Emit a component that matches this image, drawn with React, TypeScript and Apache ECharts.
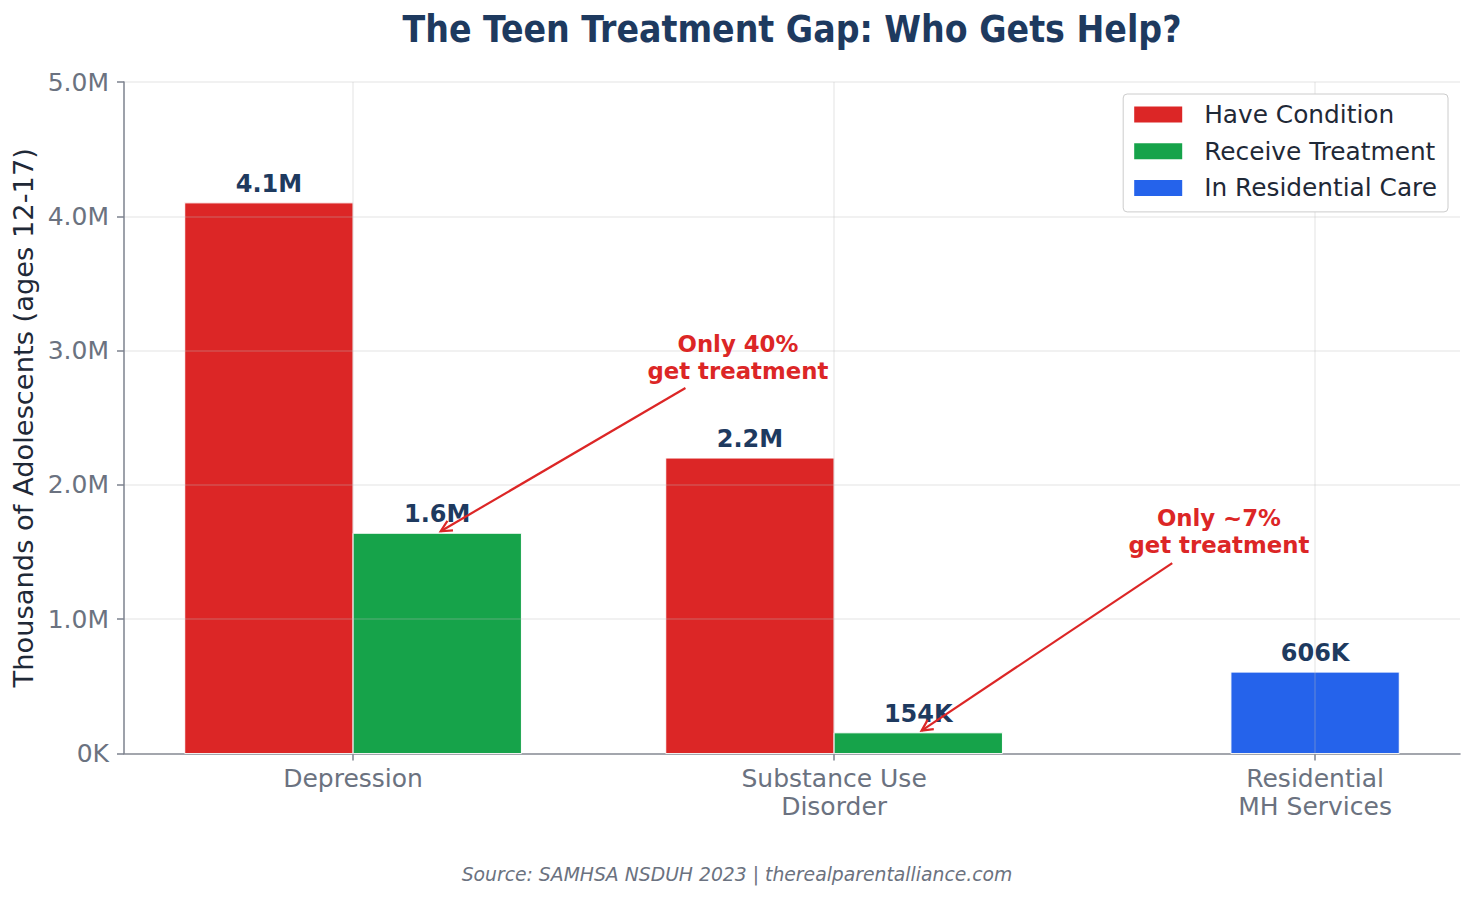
import React, { useEffect, useRef } from 'react';
import * as echarts from 'echarts';

// ---------- data ----------
const categories = ['Depression', 'Substance Use\nDisorder', 'Residential\nMH Services'];
const seriesNames = ['Have Condition', 'Receive Treatment', 'In Residential Care'];
const haveCondition: (number | null)[] = [4100, 2200, null];
const receiveTreatment: (number | null)[] = [1640, 154, null];
const residentialCare: (number | null)[] = [null, null, 606];
const yTicks = [0, 1000, 2000, 3000, 4000, 5000];

const annotationTexts = ['Only 40%\nget treatment', 'Only ~7%\nget treatment'];
const annotationTextAt = [[0.8, 2950], [1.8, 1650]];
const annotationArrowFrom = [[0.691, 2721], [1.703, 1418]];
const annotationArrowTo = [[0.175, 1640], [1.175, 154]];

const titleText = 'The Teen Treatment Gap: Who Gets Help?';
const sourceText = 'Source: SAMHSA NSDUH 2023 | therealparentalliance.com';
const yAxisName = 'Thousands of Adolescents (ages 12-17)';

// ---------- style ----------
const FONT = '"DejaVu Sans", sans-serif';
const RED = '#dc2626';
const GREEN = '#16a34a';
const BLUE = '#2563eb';
const NAVY = '#1e3a5f';
const GRAY = '#6b7280';
const AXIS = '#7d828e';
const GRID = 'rgba(190,190,190,0.28)';
const BAR_W = 0.35;

const fmtValue = (v: number) => (v >= 1000 ? (v / 1000).toFixed(1) + 'M' : Math.round(v) + 'K');
const fmtTick = (v: number) => (v === 0 ? '0K' : (v / 1000).toFixed(1) + 'M');

function barSeries(name: string, values: (number | null)[], color: string, offset: number) {
  const data = values
    .map((v, i) => (v == null ? null : [i, v]))
    .filter((d) => d != null);
  return {
    type: 'custom',
    name,
    itemStyle: { color },
    encode: { x: 0, y: 1 },
    data,
    z: 2,
    renderItem: (_params: any, api: any) => {
      const i = api.value(0);
      const v = api.value(1);
      const tl = api.coord([i + offset - BAR_W / 2, v]);
      const br = api.coord([i + offset + BAR_W / 2, 0]);
      return {
        type: 'group',
        children: [
          {
            type: 'rect',
            shape: { x: tl[0], y: tl[1], width: br[0] - tl[0], height: br[1] - tl[1] },
            style: { fill: color, stroke: '#ffffff', lineWidth: 1 },
          },
          {
            type: 'text',
            x: (tl[0] + br[0]) / 2,
            y: tl[1] - 19,
            style: {
              text: fmtValue(v),
              fill: NAVY,
              fontSize: 24,
              fontWeight: 'bold',
              fontFamily: FONT,
              align: 'center',
              verticalAlign: 'middle',
            },
          },
        ],
      };
    },
  };
}

export default function App() {
  const ref = useRef<HTMLDivElement>(null);

  useEffect(() => {
    if (!ref.current) return;
    const chart = echarts.init(ref.current, undefined, { renderer: 'svg' });

    const annotationData = annotationTexts.map((_, k) => [
      annotationTextAt[k][0],
      annotationTextAt[k][1],
      annotationArrowFrom[k][0],
      annotationArrowFrom[k][1],
      annotationArrowTo[k][0],
      annotationArrowTo[k][1],
    ]);

    const option: any = {
      animation: false,
      backgroundColor: '#ffffff',
      textStyle: { fontFamily: FONT },
      grid: { left: 124, right: 15, top: 82, bottom: 146.5, containLabel: false },
      legend: {
        data: seriesNames,
        orient: 'vertical',
        right: 27,
        top: 94,
        icon: 'rect',
        itemWidth: 48,
        itemHeight: 16,
        itemGap: 11.7,
        padding: [8, 11, 11.5, 11],
        backgroundColor: '#ffffff',
        borderColor: '#cccccc',
        borderWidth: 1,
        borderRadius: 4,
        z: 6,
        textStyle: { fontSize: 24.8, color: '#1f2937', fontFamily: FONT, padding: [0, 0, 0, 17] },
      },
      xAxis: {
        type: 'value',
        min: -0.47625,
        max: 2.30125,
        axisLine: { show: true, lineStyle: { color: AXIS, width: 1.5 } },
        axisTick: { show: true, length: 7, lineStyle: { color: AXIS, width: 1.5 }, customValues: [0, 1, 2] },
        axisLabel: {
          customValues: [0, 1, 2],
          formatter: (v: number) => categories[Math.round(v)] ?? '',
          fontSize: 25,
          color: GRAY,
          lineHeight: 28,
          margin: 11,
          fontFamily: FONT,
        },
        splitLine: { show: false },
      },
      yAxis: {
        type: 'value',
        min: yTicks[0],
        max: yTicks[yTicks.length - 1],
        interval: 1000,
        z: 3,
        name: yAxisName,
        nameLocation: 'middle',
        nameGap: 86,
        nameTextStyle: { fontSize: 27.3, color: '#1f2937', fontFamily: FONT },
        axisLine: { show: true, onZero: false, lineStyle: { color: AXIS, width: 1.5 } },
        axisTick: { show: true, length: 7, lineStyle: { color: AXIS, width: 1.5 } },
        axisLabel: { formatter: fmtTick, fontSize: 25, color: GRAY, margin: 15, fontFamily: FONT },
        splitLine: { show: true, lineStyle: { color: GRID, width: 1.5 } },
      },
      series: [
        barSeries(seriesNames[0], haveCondition, RED, -BAR_W / 2),
        barSeries(seriesNames[1], receiveTreatment, GREEN, BAR_W / 2),
        barSeries(seriesNames[2], residentialCare, BLUE, 0),
        {
          type: 'line',
          name: 'vgrid',
          data: [],
          silent: true,
          markLine: {
            silent: true,
            z: 3,
            symbol: ['none', 'none'],
            label: { show: false },
            lineStyle: { color: GRID, width: 1.5, type: 'solid' },
            data: categories.map((_, i) => ({ xAxis: i })),
          },
        },
        {
          type: 'custom',
          name: 'annotations',
          silent: true,
          z: 7,
          encode: { x: 0, y: 1 },
          data: annotationData,
          renderItem: (params: any, api: any) => {
            const k = params.dataIndex;
            const t = api.coord([api.value(0), api.value(1)]);
            const s = api.coord([api.value(2), api.value(3)]);
            const e = api.coord([api.value(4), api.value(5)]);
            let dx = s[0] - e[0];
            let dy = s[1] - e[1];
            const len = Math.sqrt(dx * dx + dy * dy);
            dx /= len;
            dy /= len;
            const tip = [e[0] + dx * 4, e[1] + dy * 4];
            const back = [tip[0] + dx * 11, tip[1] + dy * 11];
            const px = -dy;
            const py = dx;
            const h1 = [back[0] + px * 5.5, back[1] + py * 5.5];
            const h2 = [back[0] - px * 5.5, back[1] - py * 5.5];
            return {
              type: 'group',
              children: [
                {
                  type: 'line',
                  shape: { x1: s[0], y1: s[1], x2: tip[0], y2: tip[1] },
                  style: { stroke: RED, lineWidth: 2.2 },
                },
                {
                  type: 'polyline',
                  shape: { points: [h1, tip, h2] },
                  style: { stroke: RED, lineWidth: 2.2, fill: 'none' },
                },
                {
                  type: 'text',
                  x: t[0],
                  y: t[1],
                  style: {
                    text: annotationTexts[k],
                    fill: RED,
                    fontSize: 22.8,
                    fontWeight: 'bold',
                    fontFamily: FONT,
                    lineHeight: 27,
                    align: 'center',
                    verticalAlign: 'middle',
                  },
                },
              ],
            };
          },
        },
      ],
      graphic: [
        {
          type: 'text',
          x: 792,
          y: 29,
          style: {
            text: titleText,
            fill: NAVY,
            fontSize: 37,
            fontWeight: 'bold',
            fontFamily: '"DejaVu Sans Condensed", "DejaVu Sans", sans-serif',
            align: 'center',
            verticalAlign: 'middle',
          },
        },
        {
          type: 'text',
          x: 737,
          y: 874,
          style: {
            text: sourceText,
            fill: GRAY,
            fontSize: 18.8,
            fontStyle: 'italic',
            fontFamily: FONT,
            align: 'center',
            verticalAlign: 'middle',
          },
        },
      ],
    };

    chart.setOption(option);
    return () => chart.dispose();
  }, []);

  return (
    <div
      ref={ref}
      style={{ position: 'fixed', left: 0, top: 0, width: 1475, height: 900, background: '#fff' }}
    />
  );
}
